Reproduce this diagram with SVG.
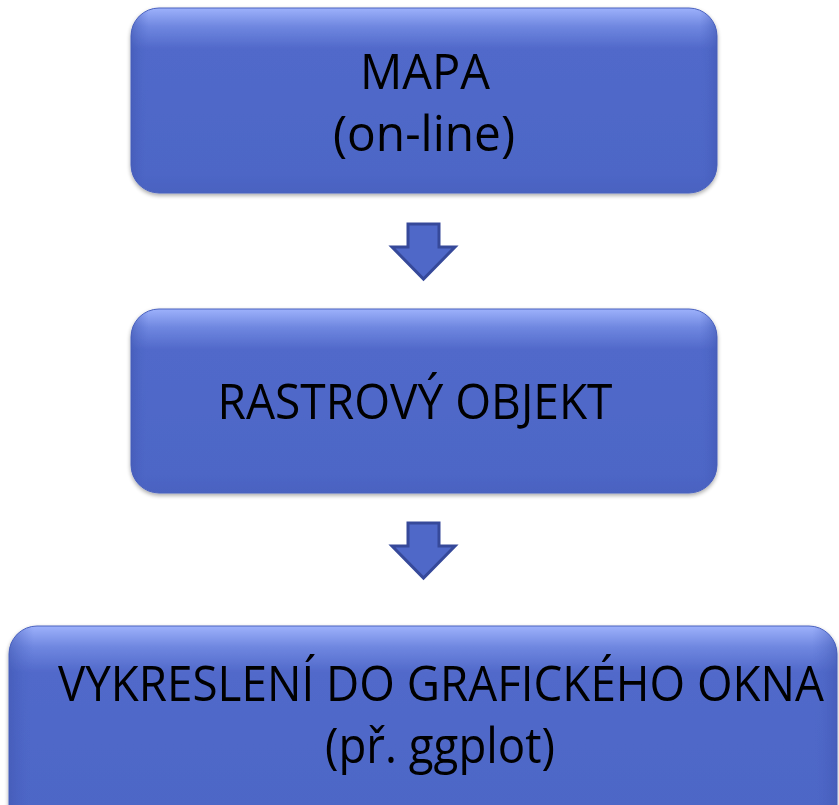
<svg xmlns="http://www.w3.org/2000/svg" width="839" height="805" viewBox="0 0 839 805">
<defs>
<linearGradient id="bodyGrad" x1="0" y1="0" x2="0" y2="1">
<stop offset="0" stop-color="#9db1fb"/>
<stop offset="0.1" stop-color="#6f87e0"/>
<stop offset="0.22" stop-color="#5169ca"/>
<stop offset="0.9" stop-color="#4d66c6"/>
<stop offset="1" stop-color="#4a62c0"/>
</linearGradient>
<linearGradient id="sideGrad" x1="0" y1="0" x2="1" y2="0">
<stop offset="0" stop-color="#3f56b0" stop-opacity="0.55"/>
<stop offset="0.03" stop-color="#4f68c8" stop-opacity="0"/>
<stop offset="0.97" stop-color="#4f68c8" stop-opacity="0"/>
<stop offset="1" stop-color="#3f56b0" stop-opacity="0.55"/>
</linearGradient>
<filter id="shadow" x="-5%" y="-5%" width="110%" height="115%">
<feGaussianBlur in="SourceAlpha" stdDeviation="2"/>
<feOffset dy="2" result="b"/>
<feComponentTransfer><feFuncA type="linear" slope="0.35"/></feComponentTransfer>
<feMerge><feMergeNode/><feMergeNode in="SourceGraphic"/></feMerge>
</filter>
</defs>
<style>
.box{fill:url(#bodyGrad);stroke:#4a62bf;stroke-width:1}
.side{fill:url(#sideGrad)}
.lbl{font-family:"Open Sans","Noto Sans","Liberation Sans",sans-serif;font-size:50px;fill:#000;text-anchor:middle}
.arrow{fill:#4f68c8;stroke:#36499a;stroke-width:3;stroke-linejoin:miter}
</style>
<g id="node-mapa" filter="url(#shadow)">
<rect class="box" x="131" y="8" width="586" height="185" rx="28"/>
<rect class="side" x="131" y="8" width="586" height="185" rx="28"/>
<text class="lbl" x="425" y="89" textLength="130" lengthAdjust="spacingAndGlyphs">MAPA</text>
<text class="lbl" x="424" y="151" textLength="182" lengthAdjust="spacingAndGlyphs">(on-line)</text>
</g>
<g id="node-rastr" filter="url(#shadow)">
<rect class="box" x="131" y="309" width="586" height="184" rx="28"/>
<rect class="side" x="131" y="309" width="586" height="184" rx="28"/>
<text class="lbl" x="415" y="419" textLength="395" lengthAdjust="spacingAndGlyphs">RASTROVÝ OBJEKT</text>
</g>
<g id="node-vykresleni" filter="url(#shadow)">
<rect class="box" x="9" y="626" width="828" height="210" rx="28"/>
<rect class="side" x="9" y="626" width="828" height="210" rx="28"/>
<text class="lbl" x="441" y="701" textLength="766" lengthAdjust="spacingAndGlyphs">VYKRESLENÍ DO GRAFICKÉHO OKNA</text>
<text class="lbl" x="440" y="763" textLength="230" lengthAdjust="spacingAndGlyphs">(př. ggplot)</text>
</g>
<g id="connectors">
<path class="arrow" d="M408,224 H439 V247 H455 L423.5,279 L392,247 H408 Z"/>
<path class="arrow" d="M408,523 H439 V546 H455 L423.5,578 L392,546 H408 Z"/>
</g>
</svg>
